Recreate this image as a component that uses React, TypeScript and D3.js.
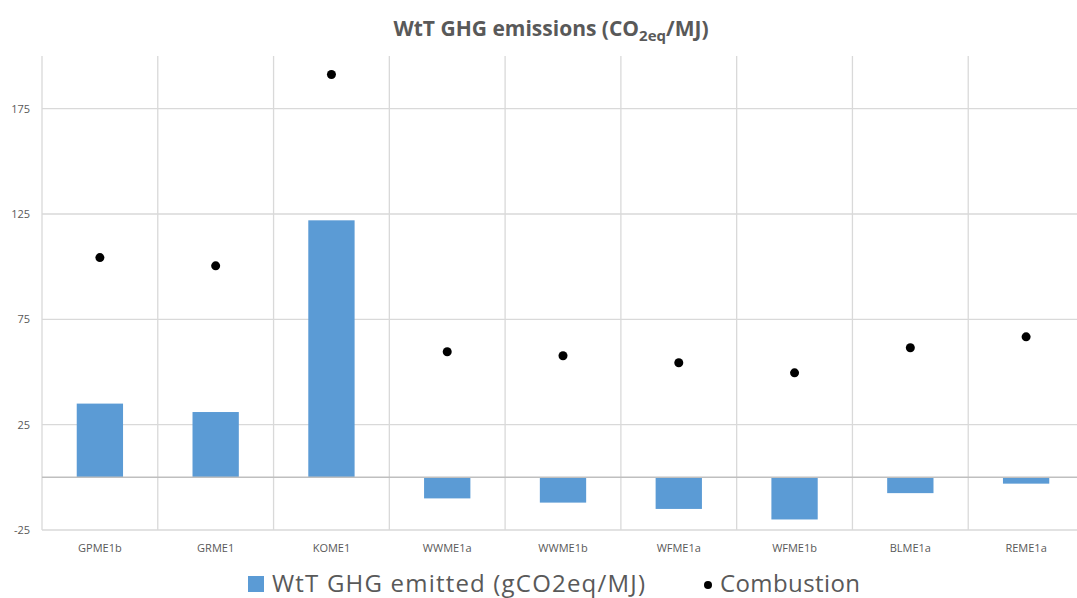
import { useEffect, useRef } from 'react'
import * as d3 from 'd3'

const categories = ['GPME1b', 'GRME1', 'KOME1', 'WWME1a', 'WWME1b', 'WFME1a', 'WFME1b', 'BLME1a', 'REME1a']
const wttEmitted = [35, 31, 122, -10, -12, -15, -20, -7.5, -3]
const combustion = [104.3, 100.4, 191.2, 59.6, 57.7, 54.4, 49.6, 61.5, 66.7]
const yTicks = [-25, 25, 75, 125, 175]

export default function App() {
  const svgRef = useRef<SVGSVGElement>(null)

  useEffect(() => {
    const width = 1077,
      height = 598
    const margin = { top: 56, left: 42, right: -7, bottom: 68 }

    const svg = d3.select(svgRef.current).attr('width', width).attr('height', height)
    svg.selectAll('*').remove()

    const x = d3
      .scaleBand()
      .domain(categories)
      .range([margin.left, width - margin.right])
      .paddingInner(0.6)
      .paddingOuter(0.3)
    const step = x.step()
    const x0 = margin.left

    const y = d3.scaleLinear().domain([-25, 200]).range([height - margin.bottom, margin.top])

    const grid = '#d9d9d9'
    const g = svg.append('g')

    // vertical gridlines at category boundaries
    g.selectAll('line.v')
      .data(d3.range(categories.length + 1))
      .join('line')
      .attr('x1', (i) => x0 + i * step)
      .attr('x2', (i) => x0 + i * step)
      .attr('y1', y(200))
      .attr('y2', y(-25))
      .attr('stroke', grid)
      .attr('stroke-width', 1.3)

    // horizontal gridlines
    g.selectAll('line.h')
      .data(yTicks)
      .join('line')
      .attr('x1', x0)
      .attr('x2', width)
      .attr('y1', (d) => y(d))
      .attr('y2', (d) => y(d))
      .attr('stroke', grid)
      .attr('stroke-width', 1.3)

    // tick labels
    g.selectAll('text.yt')
      .data(yTicks)
      .join('text')
      .attr('x', 30)
      .attr('y', (d) => y(d) + 4)
      .attr('text-anchor', 'end')
      .attr('font-size', 11)
      .attr('font-family', 'Open Sans, sans-serif')
      .attr('fill', '#595959')
      .text((d) => d)

    // bars
    g.selectAll('rect')
      .data(wttEmitted)
      .join('rect')
      .attr('x', (_, i) => x(categories[i])!)
      .attr('width', x.bandwidth())
      .attr('y', (d) => y(Math.max(0, d)))
      .attr('height', (d) => Math.abs(y(d) - y(0)))
      .attr('fill', '#5b9bd5')

    // zero line
    g.append('line')
      .attr('x1', x0)
      .attr('x2', width)
      .attr('y1', y(0))
      .attr('y2', y(0))
      .attr('stroke', '#bfbfbf')
      .attr('stroke-width', 1.5)

    // combustion dots
    g.selectAll('circle')
      .data(combustion)
      .join('circle')
      .attr('cx', (_, i) => x(categories[i])! + x.bandwidth() / 2)
      .attr('cy', (d) => y(d))
      .attr('r', 4.5)
      .attr('fill', '#000')

    // x labels
    g.selectAll('text.xl')
      .data(categories)
      .join('text')
      .attr('x', (d) => x(d)! + x.bandwidth() / 2)
      .attr('y', 552)
      .attr('text-anchor', 'middle')
      .attr('font-size', 11)
      .attr('font-family', 'Open Sans, sans-serif')
      .attr('fill', '#595959')
      .text((d) => d)

    // title
    const title = svg
      .append('text')
      .attr('x', 551)
      .attr('y', 36)
      .attr('text-anchor', 'middle')
      .attr('font-size', 21)
      .attr('font-weight', 'bold')
      .attr('font-family', 'Open Sans, sans-serif')
      .attr('fill', '#595959')
    title.append('tspan').text('WtT GHG emissions (CO')
    title.append('tspan').attr('font-size', 15).attr('dy', 5).text('2eq')
    title.append('tspan').attr('dy', -5).text('/MJ)')

    // legend
    const lg = svg.append('g').attr('font-family', 'Open Sans, sans-serif').attr('fill', '#595959')
    lg.append('rect').attr('x', 248).attr('y', 576).attr('width', 16).attr('height', 16).attr('fill', '#5b9bd5')
    lg.append('text').attr('x', 272).attr('y', 592).attr('font-size', 24).attr('textLength', 373).text('WtT GHG emitted (gCO2eq/MJ)')
    lg.append('circle').attr('cx', 708).attr('cy', 585).attr('r', 4).attr('fill', '#000')
    lg.append('text').attr('x', 720).attr('y', 592).attr('font-size', 24).attr('textLength', 140).text('Combustion')
  }, [])

  return (
    <div style={{ position: 'absolute', left: 0, top: 0 }}>
      <svg ref={svgRef}></svg>
    </div>
  )
}
